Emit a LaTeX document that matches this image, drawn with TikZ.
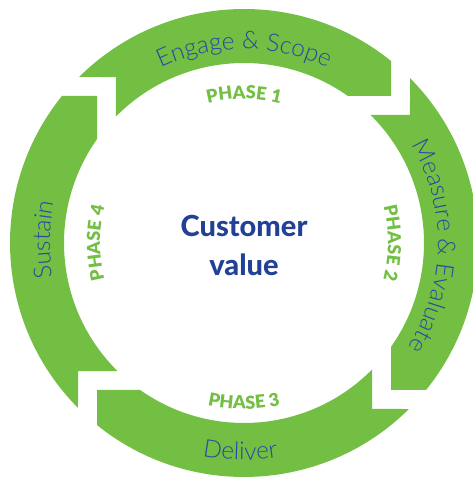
\documentclass[tikz,border=0pt]{standalone}
\usepackage{fontspec}
\usetikzlibrary{decorations.text}
\newfontfamily\outerf{Lato Light}
\newfontfamily\phasef{Lato Black}
\newfontfamily\centerf{Lato Heavy}
\definecolor{ringgreen}{RGB}{114,191,68}
\definecolor{labelblue}{RGB}{44,72,160}
\definecolor{centerblue}{RGB}{33,64,150}
\begin{document}
\begin{tikzpicture}[x=1pt,y=1pt,
  segment/.style={fill=ringgreen},
  centertext/.style={font=\centerf\fontsize{29}{32}\selectfont, text=centerblue, inner sep=0pt, anchor=base}]
\useasboundingbox (0,0) rectangle (472,478);
\coordinate (O) at (244,235);
\begin{scope}[shift={(O)}]
  \foreach \r in {0,90,180,270} {
    \fill[segment] ({134.81-\r}:234) arc[start angle={134.81-\r}, end angle={51.08-\r}, radius=234]
      -- ({45-\r}:207.89) -- ({54.75-\r}:180)
      arc[start angle={54.75-\r}, end angle={135.33-\r}, radius=180]
      -- ({127.64-\r}:209.62) -- cycle;
  }
  % outer labels
  \path[decorate, decoration={text along path, text align=center,
    text={|\outerf\fontsize{24.5}{28}\selectfont\color{labelblue}|Engage {\&} Scope}}]
    (130:194) arc[start angle=130, end angle=50, radius=194];
  \path[decorate, decoration={text along path, text align=center,
    text={|\outerf\fontsize{24.5}{28}\selectfont\color{labelblue}|Measure {\&} Evaluate}}]
    (50:194) arc[start angle=50, end angle=-52, radius=194];
  \path[decorate, decoration={text along path, text align=center,
    text={|\outerf\fontsize{24.5}{28}\selectfont\color{labelblue}|Deliver}}]
    (220:217) arc[start angle=220, end angle=318, radius=217];
  \path[decorate, decoration={text along path, text align=center,
    text={|\outerf\fontsize{24.5}{28}\selectfont\color{labelblue}|Sustain}}]
    (228:194) arc[start angle=228, end angle=130, radius=194];
  % phase labels
  \path[decorate, decoration={text along path, text align=center,
    text={|\phasef\fontsize{18}{20}\selectfont\color{ringgreen}|PHASE 1}}]
    (135:144) arc[start angle=135, end angle=45, radius=144];
  \path[decorate, decoration={text along path, text align=center,
    text={|\phasef\fontsize{18}{20}\selectfont\color{ringgreen}|PHASE 2}}]
    (45:144) arc[start angle=45, end angle=-45, radius=144];
  \path[decorate, decoration={text along path, text align=center,
    text={|\phasef\fontsize{18}{20}\selectfont\color{ringgreen}|PHASE 3}}]
    (225:166) arc[start angle=225, end angle=315, radius=166];
  \path[decorate, decoration={text along path, text align=center,
    text={|\phasef\fontsize{18}{20}\selectfont\color{ringgreen}|PHASE 4}}]
    (225:144) arc[start angle=225, end angle=135, radius=144];
\end{scope}
\node[centertext] (cust) at (244,241) {Customer};
\node[centertext] (val) at (244,202) {value};
\end{tikzpicture}
\end{document}
